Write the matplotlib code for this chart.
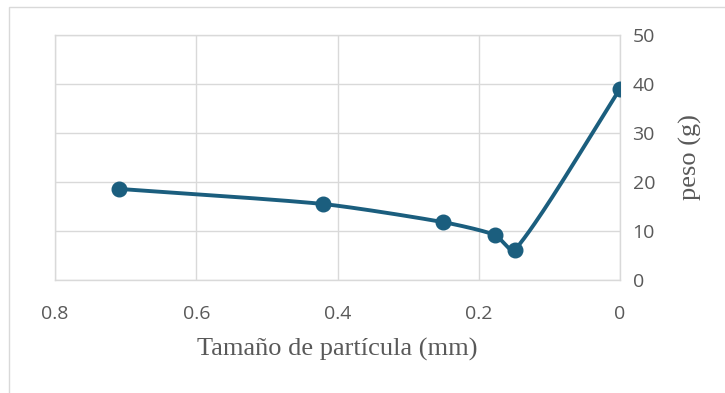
import numpy as np
import matplotlib
matplotlib.use("Agg")
import matplotlib.pyplot as plt
from matplotlib.patches import Rectangle

particle_size_mm = [0.71, 0.42, 0.25, 0.177, 0.149, 0.0]
weight_g = [18.6, 15.5, 11.8, 9.2, 6.1, 39.0]
x_ticks = [0.8, 0.6, 0.4, 0.2, 0.0]
x_tick_labels = ["0.8", "0.6", "0.4", "0.2", "0"]
y_ticks = [0, 10, 20, 30, 40, 50]
x_title = "Tamaño de partícula (mm)"
y_title = "peso (g)"

LINE = "#1B5E7E"
GRID = "#d9d9d9"
TXT = "#595959"


def smooth(ax, xs, ys, n=40, k=0.22):
    # smoothing in display space, chord-length limited control points
    pts = ax.transData.transform(np.column_stack([xs, ys]))
    m = len(pts)
    tang = []
    for i in range(m):
        a = pts[max(i-1, 0)]; b = pts[min(i+1, m-1)]
        d = b - a
        tang.append(d / (np.linalg.norm(d) + 1e-9))
    out = []
    for i in range(m - 1):
        p1, p2 = pts[i], pts[i+1]
        L = np.linalg.norm(p2 - p1)
        c1 = p1 + tang[i] * L * k
        c2 = p2 - tang[i+1] * L * k
        s = np.linspace(0, 1, n)[:, None]
        out.append((1-s)**3*p1 + 3*(1-s)**2*s*c1 + 3*(1-s)*s**2*c2 + s**3*p2)
    out = np.vstack(out)
    data = ax.transData.inverted().transform(out)
    return data[:, 0], data[:, 1]


fig = plt.figure(figsize=(7.25, 3.93), dpi=100)
fig.patches.append(Rectangle((9/725, -0.01), 1.0, 1 - 7/393 + 0.01,
                             transform=fig.transFigure, fill=False,
                             edgecolor=GRID, linewidth=1.0))
ax = fig.add_axes([55/725, 1 - 280/393, (620-55)/725, (280-35)/393])
ax.set_xlim(0.8, 0.0)
ax.set_ylim(0, 50)

sx, sy = smooth(ax, particle_size_mm, weight_g)
ax.plot(sx, sy, color=LINE, linewidth=2.8, solid_capstyle="round", zorder=3)
ax.plot(particle_size_mm, weight_g, "o", color=LINE, markersize=10.5, zorder=4)

ax.set_xticks(x_ticks)
ax.set_xticklabels(x_tick_labels)
ax.set_yticks(y_ticks)
ax.yaxis.tick_right()
ax.yaxis.set_label_position("right")
ax.grid(True, color=GRID, linewidth=1.0)
ax.set_axisbelow(True)
for side in ["left", "right", "bottom", "top"]:
    ax.spines[side].set_color(GRID)
    ax.spines[side].set_linewidth(1.0)
ax.tick_params(length=0, labelsize=14, colors=TXT)
ax.tick_params(axis="x", pad=18)
ax.tick_params(axis="y", pad=9)
for lab in ax.get_xticklabels() + ax.get_yticklabels():
    lab.set_family("Open Sans")

ax.set_xlabel(x_title, family="Liberation Serif", fontsize=19, color=TXT, labelpad=11)
ax.set_ylabel(y_title, family="Liberation Serif", fontsize=19, color=TXT, labelpad=17, rotation=90)

fig.savefig("out.png", dpi=100)
